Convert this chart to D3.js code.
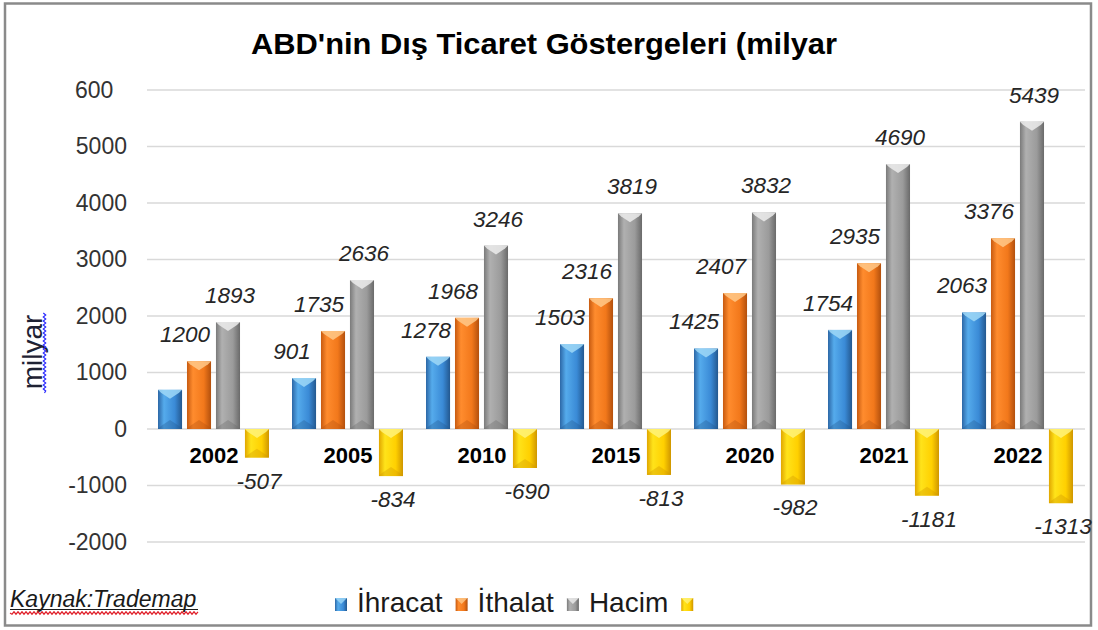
<!DOCTYPE html>
<html>
<head>
<meta charset="utf-8">
<script src="https://cdn.jsdelivr.net/npm/d3@7"></script>
<style>
  body { margin: 0; background: #fff; }
  svg { display: block; font-family: "Liberation Sans", Arial, sans-serif; }
</style>
</head>
<body>
<svg id="chart" width="1098" height="630"></svg>
<script>
// values (milyar $)
var years = ['2002', '2005', '2010', '2015', '2020', '2021', '2022'];
var seriesNames = ['İhracat', 'İthalat', 'Hacim', ''];
var ihracat = [693, 901, 1278, 1503, 1425, 1754, 2063];
var ithalat = [1200, 1735, 1968, 2316, 2407, 2935, 3376];
var hacim = [1893, 2636, 3246, 3819, 3832, 4690, 5439];
var denge = [-507, -834, -690, -813, -982, -1181, -1313];
var tickValues = [-2000, -1000, 0, 1000, 2000, 3000, 4000, 5000, 6000];
var tickLabels = ['-2000', '-1000', '0', '1000', '2000', '3000', '4000', '5000', '600'];
// the 2002 export bar has no label in the original
var hiddenLabels = [[0, '2002']];

var seriesValues = [ihracat, ithalat, hacim, denge];

// colours: edge, light, main, dark, cap
var palette = [
  ['#2c67a6', '#55abec', '#3a8ad6', '#23588f', '#9fd8f7'],
  ['#c75a10', '#ff8c2e', '#f2781b', '#b3500d', '#ffc98a'],
  ['#7a7a7a', '#b0b0b0', '#9b9b9b', '#6a6a6a', '#ececec'],
  ['#e0a600', '#ffe31a', '#ffd000', '#cf9600', '#fff37a']
];

var svg = d3.select('#chart');

// outer frame
svg.append('rect')
  .attr('x', 5).attr('y', 3.5)
  .attr('width', 1086).attr('height', 622)
  .attr('fill', '#fff')
  .attr('stroke', '#8a8a8a')
  .attr('stroke-width', 2.5);

var defs = svg.append('defs');
palette.forEach(function(c, i) {
  var g = defs.append('linearGradient')
    .attr('id', 'grad' + i)
    .attr('x1', '0%').attr('x2', '100%').attr('y1', '0%').attr('y2', '0%');
  g.append('stop').attr('offset', '0%').attr('stop-color', c[0]);
  g.append('stop').attr('offset', '25%').attr('stop-color', c[1]);
  g.append('stop').attr('offset', '70%').attr('stop-color', c[2]);
  g.append('stop').attr('offset', '100%').attr('stop-color', c[3]);
});

var x0 = d3.scaleBand().domain(years).range([147, 1085]).padding(0);
var x1 = d3.scaleBand().domain(d3.range(4)).range([11, 122]).paddingInner(0.17);
var y = d3.scaleLinear().domain([-2000, 6000]).range([542, 90]);

// title
svg.append('text')
  .attr('x', 544).attr('y', 54)
  .attr('text-anchor', 'middle')
  .attr('font-weight', 'bold')
  .attr('font-size', 30)
  .attr('textLength', 586)
  .attr('lengthAdjust', 'spacingAndGlyphs')
  .attr('fill', '#000')
  .text("ABD'nin Dış Ticaret Göstergeleri (milyar");

// grid
svg.append('g').selectAll('line')
  .data(tickValues)
  .enter().append('line')
  .attr('x1', 147).attr('x2', 1085)
  .attr('y1', function(d) { return y(d); })
  .attr('y2', function(d) { return y(d); })
  .attr('stroke', '#d9d9d9')
  .attr('stroke-width', 1.5);

// y axis labels
var yAxis = d3.axisLeft(y)
  .tickValues(tickValues)
  .tickSize(0)
  .tickPadding(0)
  .tickFormat(function(d, i) { return tickLabels[i]; });

var ya = svg.append('g')
  .attr('transform', 'translate(127,0)')
  .call(yAxis);
ya.select('.domain').remove();
ya.selectAll('text')
  .attr('font-family', '"Liberation Sans", Arial, sans-serif')
  .attr('font-size', 23)
  .attr('fill', '#333');
// the top label is a clipped "6000" so it sits left aligned
ya.selectAll('.tick').filter(function(d) { return d === 6000; })
  .select('text')
  .attr('text-anchor', 'start')
  .attr('x', -52);

function wavy(xa, ya, xb, yb, amp) {
  // small zigzag along a straight line
  var len = Math.hypot(xb - xa, yb - ya);
  var ux = (xb - xa) / len, uy = (yb - ya) / len;
  var nx = -uy, ny = ux;
  var p = 'M' + xa + ',' + ya;
  var step = 2, k = 0;
  for (var s = step; s <= len; s += step) {
    var o = (k % 2 === 0 ? amp : -amp);
    p += 'L' + (xa + ux * s + nx * o) + ',' + (ya + uy * s + ny * o);
    k++;
  }
  return p;
}

// y axis title
svg.append('text')
  .attr('transform', 'translate(42,352) rotate(-90)')
  .attr('text-anchor', 'middle')
  .attr('font-size', 28)
  .attr('fill', '#1e2233')
  .text('milyar');
svg.append('path')
  .attr('d', wavy(44.5, 393, 44.5, 312, 1.2))
  .attr('fill', 'none')
  .attr('stroke', '#2b2bff')
  .attr('stroke-width', 1.2);

// bars
var groups = svg.append('g').selectAll('g')
  .data(years)
  .enter().append('g')
  .attr('transform', function(d) { return 'translate(' + x0(d) + ',0)'; });

var bw = x1.bandwidth();

groups.each(function(year, gi) {
  var g = d3.select(this);
  seriesValues.forEach(function(vals, si) {
    var v = vals[gi];
    var bx = x1(si);
    var top = y(Math.max(0, v));
    var bot = y(Math.min(0, v));
    g.append('rect')
      .attr('x', bx).attr('y', top)
      .attr('width', bw).attr('height', bot - top)
      .attr('fill', 'url(#grad' + si + ')');
    // bevel cap at the top
    var ch = Math.min(9, (bot - top) / 2);
    g.append('path')
      .attr('d', 'M' + bx + ',' + top + 'L' + (bx + bw) + ',' + top +
        'L' + (bx + bw - 3) + ',' + (top + 3) +
        'L' + (bx + bw / 2) + ',' + (top + ch) +
        'L' + (bx + 3) + ',' + (top + 3) + 'Z')
      .attr('fill', palette[si][4])
      .attr('opacity', 0.85);
    // darker bottom bevel
    g.append('path')
      .attr('d', 'M' + bx + ',' + bot + 'L' + (bx + bw) + ',' + bot +
        'L' + (bx + bw - 3) + ',' + (bot - 3) +
        'L' + (bx + bw / 2) + ',' + (bot - ch) +
        'L' + (bx + 3) + ',' + (bot - 3) + 'Z')
      .attr('fill', palette[si][3])
      .attr('opacity', 0.35);
  });
});

// value labels
var labelShift = [-12, -14, 2, 2];
groups.each(function(year, gi) {
  var g = d3.select(this);
  seriesValues.forEach(function(vals, si) {
    var hidden = hiddenLabels.some(function(h) { return h[0] === si && h[1] === year; });
    if (hidden) return;
    var v = vals[gi];
    var cx = x1(si) + bw / 2 + labelShift[si];
    var ly = v >= 0 ? y(v) - 19 : y(v) + 31;
    g.append('text')
      .attr('x', cx).attr('y', ly)
      .attr('text-anchor', 'middle')
      .attr('font-style', 'italic')
      .attr('font-size', 22.5)
      .attr('fill', '#262626')
      .text(v);
  });
});

// category labels
groups.append('text')
  .attr('x', x0.bandwidth() / 2)
  .attr('y', 463)
  .attr('text-anchor', 'middle')
  .attr('font-weight', 'bold')
  .attr('font-size', 22)
  .attr('fill', '#000')
  .text(function(d) { return d; });

// source note
svg.append('text')
  .attr('x', 10).attr('y', 607)
  .attr('font-style', 'italic')
  .attr('font-size', 23)
  .attr('fill', '#1a1a1a')
  .text('Kaynak:Trademap');
svg.append('line')
  .attr('x1', 10).attr('x2', 198)
  .attr('y1', 609.5).attr('y2', 609.5)
  .attr('stroke', '#1a1a1a').attr('stroke-width', 1);
svg.append('path')
  .attr('d', wavy(10, 613, 198, 613, 1.2))
  .attr('fill', 'none')
  .attr('stroke', '#e0202a')
  .attr('stroke-width', 1.2);

// legend
var lx = 335;
seriesNames.forEach(function(name, i) {
  svg.append('rect')
    .attr('x', lx).attr('y', 598)
    .attr('width', 12).attr('height', 13)
    .attr('fill', 'url(#grad' + i + ')');
  svg.append('path')
    .attr('d', 'M' + lx + ',598L' + (lx + 12) + ',598L' + (lx + 6) + ',604Z')
    .attr('fill', palette[i][4]).attr('opacity', 0.8);
  if (!name) return;
  var t = svg.append('text')
    .attr('x', lx + 22).attr('y', 612)
    .attr('font-size', 28)
    .attr('fill', '#1a1a1a')
    .text(name);
  lx = lx + 22 + t.node().getComputedTextLength() + 13;
});
</script>
</body>
</html>
